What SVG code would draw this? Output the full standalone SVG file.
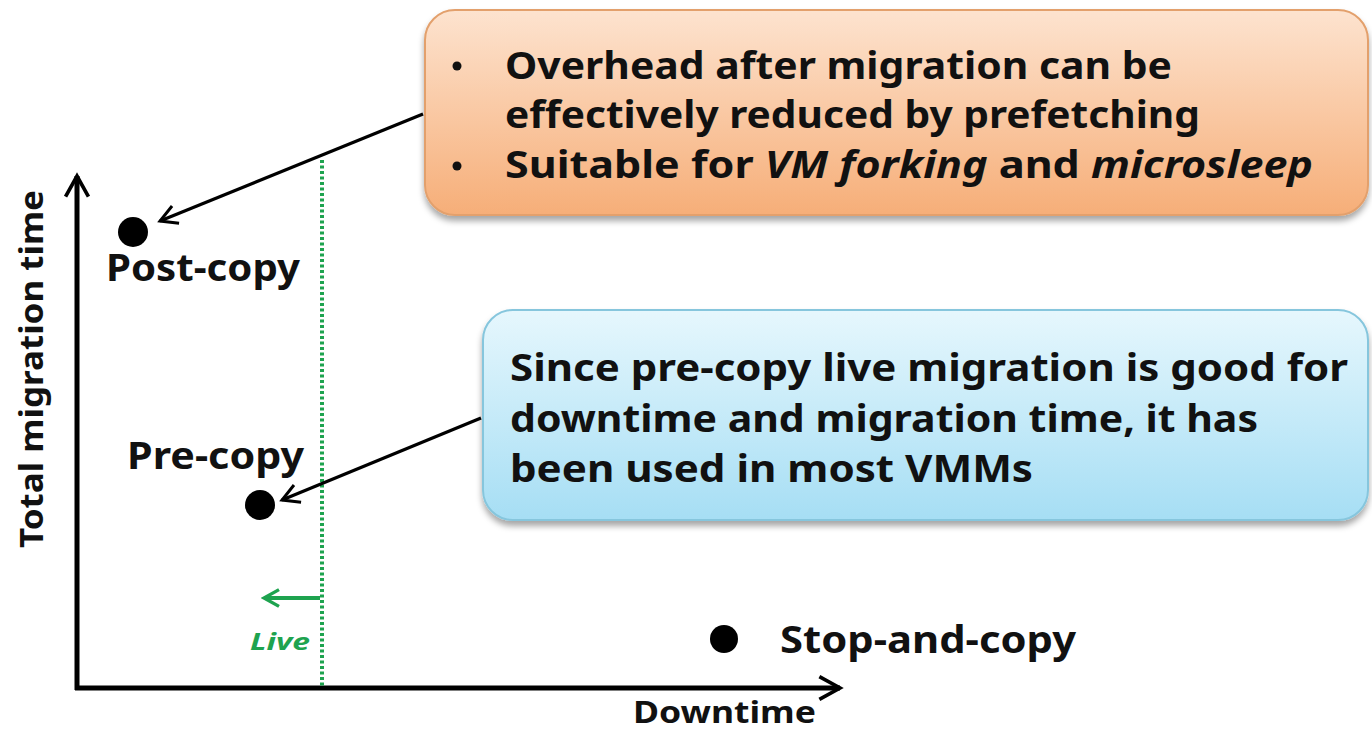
<svg xmlns="http://www.w3.org/2000/svg" width="1372" height="731" viewBox="0 0 1372 731">
  <style>
    .lbl { font-family: "Noto Sans", "Liberation Sans", sans-serif; font-weight: 700; fill: #111; }
    .box-text { font-size: 38px; }
    .pt { font-size: 38px; }
    .axis { stroke: #000; stroke-width: 5; fill: none; }
    .conn { stroke: #000; stroke-width: 3.2; fill: none; }
    .dot { fill: #000; }
  </style>
  <defs>
    <linearGradient id="orangeFill" x1="0" y1="0" x2="0" y2="1">
      <stop offset="0" stop-color="#fde3cf"/>
      <stop offset="1" stop-color="#f6ae78"/>
    </linearGradient>
    <linearGradient id="blueFill" x1="0" y1="0" x2="0" y2="1">
      <stop offset="0" stop-color="#e6f7fd"/>
      <stop offset="1" stop-color="#a6def4"/>
    </linearGradient>
    <filter id="shadow" x="-5%" y="-10%" width="110%" height="130%">
      <feDropShadow dx="0" dy="5" stdDeviation="3" flood-color="#000" flood-opacity="0.35"/>
    </filter>
    <marker id="openHead" viewBox="0 0 12 12" refX="10" refY="6" markerWidth="7" markerHeight="7" markerUnits="strokeWidth" orient="auto">
      <path d="M1,1 L10,6 L1,11" fill="none" stroke="#000" stroke-width="1.6"/>
    </marker>
    <marker id="axisHead" viewBox="0 0 12 12" refX="10" refY="6" markerWidth="5.5" markerHeight="5.5" markerUnits="strokeWidth" orient="auto">
      <path d="M1,1 L10,6 L1,11" fill="none" stroke="#000" stroke-width="1.6"/>
    </marker>
    <marker id="greenHead" viewBox="0 0 12 12" refX="10" refY="6" markerWidth="5" markerHeight="5" markerUnits="strokeWidth" orient="auto">
      <path d="M1,1 L10,6 L1,11" fill="none" stroke="#1ea34f" stroke-width="2"/>
    </marker>
  </defs>

  <rect width="1372" height="731" fill="#fff"/>

  <!-- axes -->
  <g id="axes">
    <line class="axis" x1="77" y1="690" x2="77" y2="176" marker-end="url(#axisHead)"/>
    <line class="axis" x1="75" y1="688" x2="840" y2="688" marker-end="url(#axisHead)"/>
    <text class="lbl" font-size="32" transform="translate(43,548) rotate(-90)" textLength="358" lengthAdjust="spacingAndGlyphs">Total migration time</text>
    <text class="lbl" font-size="31" x="633" y="723" textLength="183" lengthAdjust="spacingAndGlyphs">Downtime</text>
  </g>

  <!-- live migration threshold -->
  <g id="live-threshold">
    <line x1="322" y1="160" x2="322" y2="686" stroke="#1ea34f" stroke-width="4" stroke-dasharray="3 2.5"/>
    <line x1="320" y1="598" x2="264" y2="598" stroke="#1ea34f" stroke-width="4" marker-end="url(#greenHead)"/>
    <text x="250" y="650" font-family="Noto Sans, Liberation Sans, sans-serif" font-weight="700" font-style="italic" font-size="24" fill="#1ea34f" textLength="60" lengthAdjust="spacingAndGlyphs">Live</text>
  </g>

  <!-- data points -->
  <g id="post-copy">
    <circle class="dot" cx="133" cy="232" r="15"/>
    <text class="lbl pt" x="106" y="281" textLength="194" lengthAdjust="spacingAndGlyphs">Post-copy</text>
  </g>
  <g id="pre-copy">
    <circle class="dot" cx="260" cy="505" r="15"/>
    <text class="lbl pt" x="127" y="469" textLength="177" lengthAdjust="spacingAndGlyphs">Pre-copy</text>
  </g>
  <g id="stop-and-copy">
    <circle class="dot" cx="724" cy="639" r="14"/>
    <text class="lbl pt" x="780" y="653" textLength="296" lengthAdjust="spacingAndGlyphs">Stop-and-copy</text>
  </g>

  <!-- callouts -->
  <g id="post-copy-note">
    <rect x="425" y="10" width="943" height="205" rx="30" ry="30" fill="url(#orangeFill)" stroke="#e3a06c" stroke-width="2" filter="url(#shadow)"/>
    <circle cx="457" cy="66" r="4.5" fill="#111"/>
    <circle cx="457" cy="166" r="4.5" fill="#111"/>
    <text class="lbl box-text" x="505" y="79" textLength="667" lengthAdjust="spacingAndGlyphs">Overhead after migration can be</text>
    <text class="lbl box-text" x="505" y="128" textLength="695" lengthAdjust="spacingAndGlyphs">effectively reduced by prefetching</text>
    <text class="lbl box-text" x="505" y="178" textLength="808" lengthAdjust="spacingAndGlyphs">Suitable for <tspan font-style="italic">VM forking</tspan> and <tspan font-style="italic">microsleep</tspan></text>
  </g>
  <g id="pre-copy-note">
    <rect x="483" y="310" width="885" height="210" rx="30" ry="30" fill="url(#blueFill)" stroke="#86c6dd" stroke-width="2" filter="url(#shadow)"/>
    <text class="lbl box-text" x="510" y="381" textLength="838" lengthAdjust="spacingAndGlyphs">Since pre-copy live migration is good for</text>
    <text class="lbl box-text" x="510" y="432" textLength="748" lengthAdjust="spacingAndGlyphs">downtime and migration time, it has</text>
    <text class="lbl box-text" x="510" y="482" textLength="523" lengthAdjust="spacingAndGlyphs">been used in most VMMs</text>
  </g>

  <!-- connectors -->
  <g id="connectors">
    <line class="conn" x1="423" y1="114" x2="160" y2="221" marker-end="url(#openHead)"/>
    <line class="conn" x1="481" y1="418" x2="282" y2="500" marker-end="url(#openHead)"/>
  </g>
</svg>
